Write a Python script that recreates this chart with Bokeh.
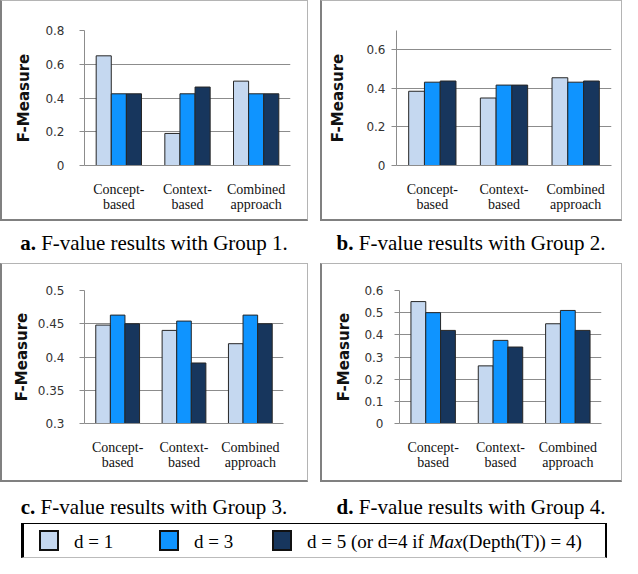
from bokeh.plotting import figure
from bokeh.models import FactorRange, Range1d, FixedTicker, Div, Spacer, ColumnDataSource
from bokeh.transform import dodge
from bokeh.layouts import row, column
from bokeh.embed import file_html
from bokeh.resources import INLINE

# ---------------- data ----------------
categories = ["Concept-\nbased", "Context-\nbased", "Combined\napproach"]
series_names = ["d = 1", "d = 3", "d = 5 (or d=4 if Max(Depth(T)) = 4)"]

g1_d1 = [0.65, 0.19, 0.50]
g1_d3 = [0.425, 0.425, 0.425]
g1_d5 = [0.425, 0.465, 0.425]

g2_d1 = [0.385, 0.35, 0.455]
g2_d3 = [0.432, 0.417, 0.432]
g2_d5 = [0.438, 0.417, 0.438]

g3_d1 = [0.448, 0.44, 0.42]
g3_d3 = [0.463, 0.454, 0.463]
g3_d5 = [0.45, 0.391, 0.45]

g4_d1 = [0.55, 0.26, 0.45]
g4_d3 = [0.50, 0.375, 0.51]
g4_d5 = [0.42, 0.345, 0.42]

ticks_1 = [0, 0.2, 0.4, 0.6, 0.8]
ticks_2 = [0, 0.2, 0.4, 0.6]
ticks_3 = [0.3, 0.35, 0.4, 0.45, 0.5]
ticks_4 = [0, 0.1, 0.2, 0.3, 0.4, 0.5, 0.6]

captions = [
    ("a.", "F-value results with Group 1."),
    ("b.", "F-value results with Group 2."),
    ("c.", "F-value results with Group 3."),
    ("d.", "F-value results with Group 4."),
]

# ---------------- style ----------------
C1, C3, C5 = "#c5d8f0", "#0f94ff", "#17365d"
GRID = "#8c8c8c"
BAR_W = 0.22


def make_panel(d1, d3, d5, y0, y1, ticks, width, height, mb, tick_standoff, label_standoff):
    src = ColumnDataSource(dict(cat=categories, d1=d1, d3=d3, d5=d5))
    p = figure(x_range=FactorRange(*categories), y_range=Range1d(y0, y1),
               width=width, height=height, output_backend="svg",
               toolbar_location=None, min_border_left=mb[0], min_border_right=mb[1],
               min_border_top=mb[2], min_border_bottom=mb[3])
    for col, off, color in (("d1", -BAR_W, C1), ("d3", 0.0, C3), ("d5", BAR_W, C5)):
        p.vbar(x=dodge("cat", off, range=p.x_range), top=col, bottom=y0, width=BAR_W,
               source=src, fill_color=color, line_color="#262626", line_width=1)
    p.outline_line_color = None
    p.background_fill_color = "white"
    p.border_fill_color = "white"
    p.xgrid.grid_line_color = None
    p.ygrid.grid_line_color = GRID
    p.ygrid.grid_line_width = 1

    ya = p.yaxis[0]
    ya.ticker = FixedTicker(ticks=ticks)
    ya.major_label_overrides = {t: f"{t:g}" for t in ticks}
    ya.axis_line_color = GRID
    ya.major_tick_line_color = GRID
    ya.major_tick_out = 5
    ya.major_tick_in = 0
    ya.minor_tick_line_color = None
    ya.major_label_text_font = "DejaVu Sans"
    ya.major_label_text_font_size = "12px"
    ya.major_label_text_color = "#333333"
    ya.major_label_standoff = tick_standoff
    ya.axis_label = "F-Measure"
    ya.axis_label_text_font = "DejaVu Sans"
    ya.axis_label_text_font_style = "bold"
    ya.axis_label_text_font_size = "15px"
    ya.axis_label_text_color = "#111111"
    ya.axis_label_standoff = label_standoff

    xa = p.xaxis[0]
    xa.axis_line_color = GRID
    xa.major_tick_line_color = None
    xa.minor_tick_line_color = None
    xa.major_label_text_font = "Liberation Serif"
    xa.major_label_text_font_size = "14px"
    xa.major_label_text_color = "#111111"
    xa.major_label_text_line_height = 1.0
    xa.major_label_standoff = 10
    xa.major_label_orientation = "horizontal"

    p.styles = {"box-sizing": "border-box",
                "border-top": "1px solid #b4b4b4", "border-right": "1px solid #b4b4b4",
                "border-left": "2px solid #808080", "border-bottom": "2px solid #808080"}
    return p


fa = make_panel(g1_d1, g1_d3, g1_d5, 0, 0.8, ticks_1, 308, 221, (82, 20, 22, 57), 15, 9)
fb = make_panel(g2_d1, g2_d3, g2_d5, 0, 0.7, ticks_2, 302, 221, (74, 13, 29, 48), 6, 16)
fc = make_panel(g3_d1, g3_d3, g3_d5, 0.3, 0.5, ticks_3, 308, 219, (82, 27, 25, 60), 15, 4)
fd = make_panel(g4_d1, g4_d3, g4_d5, 0, 0.6, ticks_4, 302, 219, (77, 23, 26, 58), 11, 8)


def caption(i, width, height, pad):
    b, rest = captions[i]
    html = (f'<div style="width:{width}px;text-align:center;font-family:\'Liberation Serif\';'
            f'font-size:21px;line-height:24px;color:#000;padding-top:{pad}px;white-space:nowrap;">'
            f'<b>{b}</b> {rest}</div>')
    return Div(text=html, width=width, height=height, margin=0)


cap_a = caption(0, 308, 42, 10)
cap_b = caption(1, 302, 42, 10)
cap_c = caption(2, 308, 41, 13)
cap_d = caption(3, 302, 41, 13)


def swatch(left, color):
    return (f'<span style="position:absolute;left:{left}px;top:6px;width:20px;height:21px;'
            f'box-sizing:border-box;background:{color};border:2px solid #111;"></span>')


def label(left, html):
    return f'<span style="position:absolute;left:{left}px;top:8px;line-height:19px;">{html}</span>'


legend_html = (
    '<div style="position:relative;box-sizing:border-box;width:586px;height:35px;'
    'border-top:1px solid #000;border-bottom:1px solid #bbb;border-left:3px solid #000;'
    "border-right:2px solid #000;font-family:'Liberation Serif';font-size:19px;"
    'color:#000;white-space:nowrap;">'
    + swatch(15, C1) + label(50, series_names[0])
    + swatch(135, C3) + label(170, series_names[1])
    + swatch(248, C5) + label(283, "d = 5 (or d=4 if <i>Max</i>(Depth(T)) = 4)")
    + '</div>'
)
legend = Div(text=legend_html, width=586, height=35, margin=0)

root = column(
    row(fa, Spacer(width=12), fb),
    row(cap_a, Spacer(width=12), cap_b),
    row(fc, Spacer(width=12), fd),
    row(cap_c, Spacer(width=12), cap_d),
    row(Spacer(width=21), legend),
)

open("out.html", "w").write(file_html(root, INLINE))
